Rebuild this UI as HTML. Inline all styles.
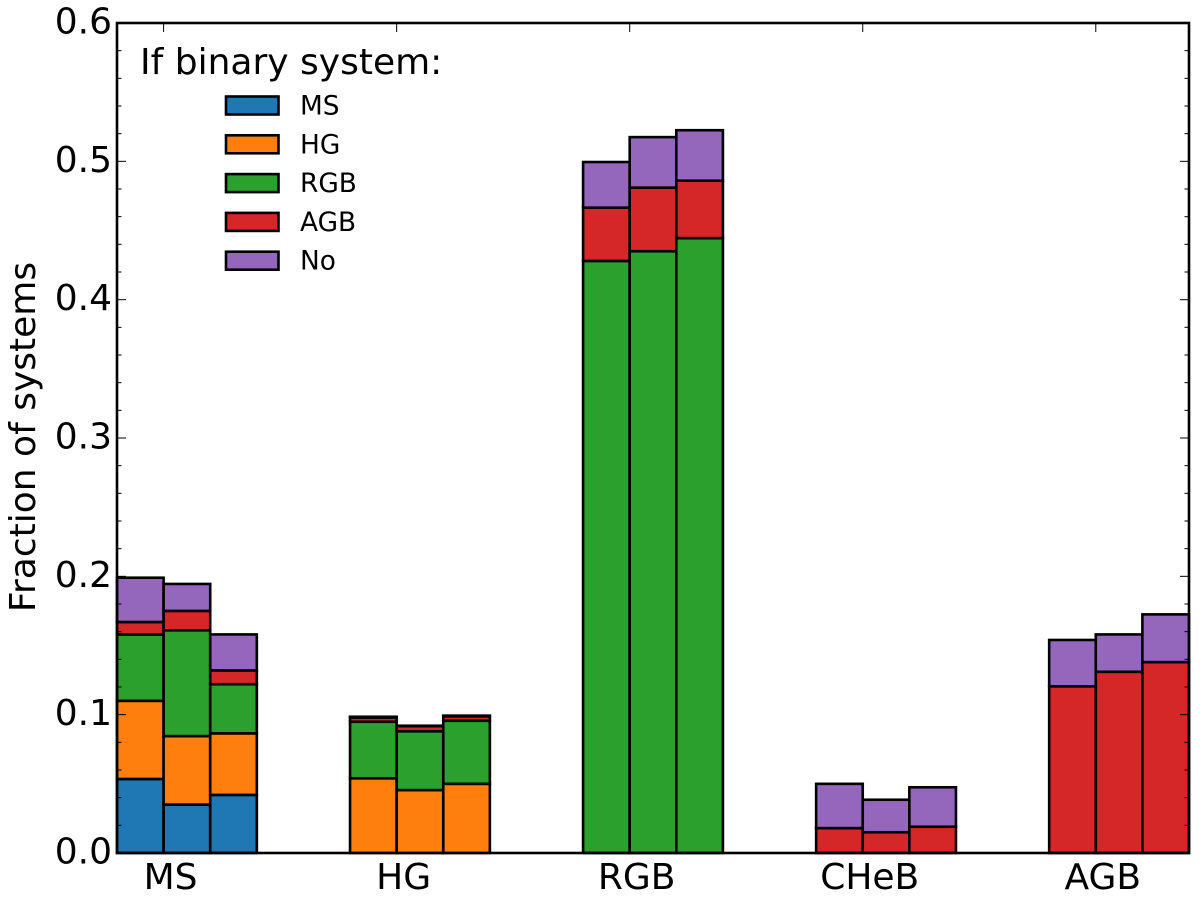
<!DOCTYPE html>
<html lang="en">
<head>
<meta charset="utf-8">
<title>Fraction of systems by evolutionary stage</title>
<style>
html,body{margin:0;padding:0;background:#fff;}
svg{display:block;}
text{font-family:"DejaVu Sans","Liberation Sans",sans-serif;fill:#000;}
</style>
</head>
<body>
<svg id="chart" xmlns="http://www.w3.org/2000/svg" width="1200" height="902" viewBox="0 0 1200 902">
<text transform="translate(35,437) rotate(-90)" text-anchor="middle" font-size="36">Fraction of systems</text>
<text x="140" y="74" font-size="36">If binary system:</text>
</svg>
<script>
const stages = ["MS", "HG", "RGB", "CHeB", "AGB"];
const seriesNames = ["MS", "HG", "RGB", "AGB", "No"];
const seriesColors = ["#1f77b4", "#ff7f0e", "#2ca02c", "#d62728", "#9467bd"];
const yTickLabels = ["0.0", "0.1", "0.2", "0.3", "0.4", "0.5", "0.6"];
const msValues = [0.0535,0.035,0.042, 0,0,0, 0,0,0, 0,0,0, 0,0,0];
const hgValues = [0.0565,0.0495,0.0445, 0.054,0.0455,0.05, 0,0,0, 0,0,0, 0,0,0];
const rgbValues = [0.048,0.0765,0.0355, 0.0409,0.0425,0.0456, 0.428,0.435,0.4445, 0,0,0, 0,0,0];
const agbValues = [0.009,0.014,0.01, 0.003,0.0037,0.0032, 0.0385,0.046,0.0415, 0.018,0.015,0.019, 0.1205,0.131,0.138];
const noValues = [0.032,0.0195,0.026, 0.0006,0.0003,0.0005, 0.033,0.0365,0.0365, 0.032,0.0235,0.0285, 0.0335,0.027,0.0345];
const allSeries = [msValues, hgValues, rgbValues, agbValues, noValues];

const svg = document.getElementById('chart');
const NS = 'http://www.w3.org/2000/svg';
const plot = {left:117, right:1189, top:23, bottom:853};
const xMax = 4.6, yMax = 0.6;
const sx = v => plot.left + v / xMax * (plot.right - plot.left);
const sy = v => plot.bottom - v / yMax * (plot.bottom - plot.top);
const barWidth = 0.2;

function make(tag, attrs) {
  const el = document.createElementNS(NS, tag);
  for (const k in attrs) el.setAttribute(k, attrs[k]);
  svg.appendChild(el);
  return el;
}

// stacked bars
for (let b = 0; b < 15; b++) {
  const group = Math.floor(b / 3);
  const x0 = group + (b % 3) * barWidth;
  let base = 0;
  allSeries.forEach((vals, s) => {
    const v = vals[b];
    if (v <= 0) return;
    const r = make('rect', {
      x: sx(x0), y: sy(base + v),
      width: sx(x0 + barWidth) - sx(x0), height: sy(base) - sy(base + v),
      fill: seriesColors[s], stroke: '#000', 'stroke-width': 2.6
    });
    
    
    base += v;
  });
}

// y ticks, major and minor, on both sides
for (let i = 0; i <= 30; i++) {
  const yv = i * 0.02;
  const major = i % 5 === 0;
  const len = major ? 9 : 4.5;
  const y = sy(yv);
  const tl = make('line', {x1: plot.left, x2: plot.left + len, y1: y, y2: y, stroke: '#000', 'stroke-width': 1});
  
  
  const tr = make('line', {x1: plot.right, x2: plot.right - len, y1: y, y2: y, stroke: '#000', 'stroke-width': 1});
  
  
}

// y tick labels
yTickLabels.forEach(label => {
  const t = make('text', {x: 112, y: sy(parseFloat(label)) + 10.5, 'text-anchor': 'end', 'font-size': 36});
  t.textContent = label;
  
  
});

// x ticks and labels
stages.forEach((stage, i) => {
  const x = sx(i + 0.2);
  const tt = make('line', {x1: x, x2: x, y1: plot.top, y2: plot.top + 9, stroke: '#000', 'stroke-width': 1});
  
  
  const t = make('text', {x: sx(i + 0.23), y: 889, 'text-anchor': 'middle', 'font-size': 36});
  t.textContent = stage;
  
  
});

// axes frame
const frame = make('rect', {x: plot.left, y: plot.top, width: plot.right - plot.left, height: plot.bottom - plot.top, fill: 'none', stroke: '#000', 'stroke-width': 2.6});



// legend
seriesNames.forEach((name, i) => {
  const y = 96.5 + i * 38.8;
  const sw = make('rect', {x: 226, y: y, width: 52.5, height: 18, fill: seriesColors[i], stroke: '#000', 'stroke-width': 2.6});
  
  
  const t = make('text', {x: 300, y: y + 18, 'font-size': 26.4});
  t.textContent = name;
  
  
});
</script>
</body>
</html>
